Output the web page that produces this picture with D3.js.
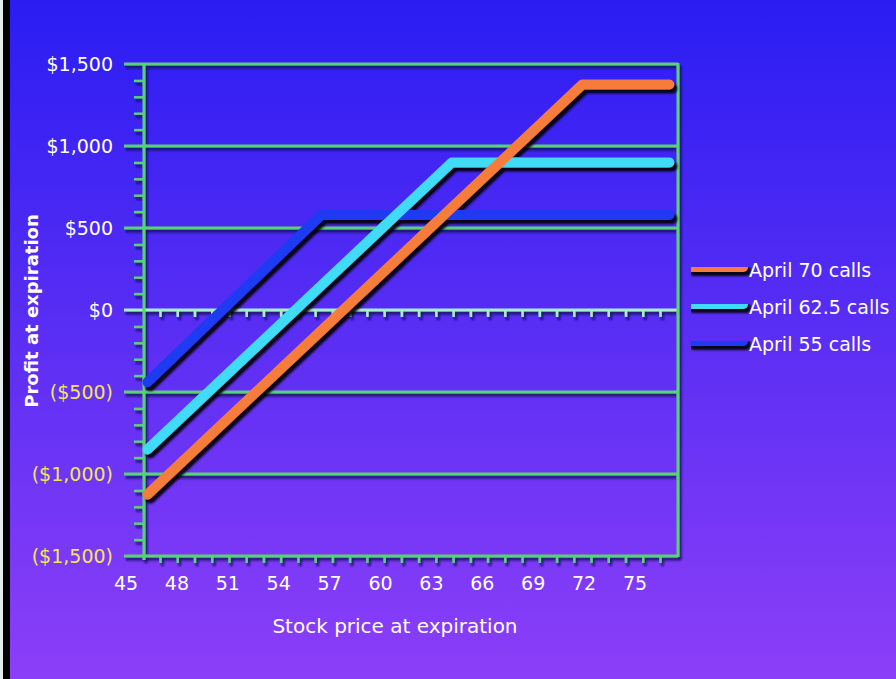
<!DOCTYPE html>
<html>
<head>
<meta charset="utf-8">
<script src="https://cdn.jsdelivr.net/npm/d3@7"></script>
<style>
	body{margin:0;padding:0;overflow:hidden;}
	svg{display:block;}
	text{font-family:"DejaVu Sans",sans-serif;}
</style>
</head>
<body>
<svg id="chart" width="896" height="679"></svg>
<script>

// data
var prices = [45, 55, 62.5, 70, 75];
var april70 = [-1125, -125, 625, 1375, 1375];
var april625 = [-850, 150, 900, 900, 900];
var april55 = [-440, 580, 580, 580, 580];
var seriesNames = ['April 70 calls', 'April 62.5 calls', 'April 55 calls'];
var seriesColors = ['#f67b3b', '#3fdcf7', '#1c3af2'];
var yTicks = [-1500, -1000, -500, 0, 500, 1000, 1500];
var xTicks = [45, 48, 51, 54, 57, 60, 63, 66, 69, 72, 75];

var config = {
	width : 896,
	height : 679,
	left : 144,
	right : 678,
	top : 64,
	bottom : 556,
	grid : '#58d274'
};

var svg = d3.select('#chart');
var defs = svg.append('defs');

var grad = defs.append('linearGradient')
	.attr('id','bg')
	.attr('x1',0).attr('y1',0).attr('x2',0).attr('y2',1);
grad.append('stop').attr('offset','0%').attr('stop-color','#2a1df3');
grad.append('stop').attr('offset','50%').attr('stop-color','#5b2ef4');
grad.append('stop').attr('offset','100%').attr('stop-color','#8c3ff8');

// shadow filters in user space so flat lines keep theirs
function makeShadow(id,dx,dy,col){
	var f = defs.append('filter')
		.attr('id',id)
		.attr('filterUnits','userSpaceOnUse')
		.attr('x',0).attr('y',0)
		.attr('width',config.width).attr('height',config.height);
	f.append('feDropShadow')
		.attr('dx',dx).attr('dy',dy)
		.attr('stdDeviation',1)
		.attr('flood-color',col)
		.attr('flood-opacity',0.9);
}
makeShadow('shadow',3,4,'#000');
makeShadow('gshadow',2,3,'#10085a');

// background
svg.append('rect')
	.attr('width',config.width).attr('height',config.height)
	.attr('fill','url(#bg)');
svg.append('rect')
	.attr('x',0).attr('width',3).attr('height',config.height)
	.attr('fill','#e4ecec');
svg.append('rect')
	.attr('x',3).attr('width',7).attr('height',config.height)
	.attr('fill','#000');

// scales
var xScale = d3.scaleLinear()
				.domain([44.8,75.5])
				.range([config.left,config.right]);

var xLabelScale = d3.scaleLinear()
				.domain([45,75])
				.range([126,635]);

var xMinorScale = d3.scaleLinear()
				.domain([46,75])
				.range([160,660]);

var yScale = d3.scaleLinear()
				.domain([-1500,1500])
				.range([config.bottom,config.top]);

var grid = svg.append('g').attr('filter','url(#gshadow)');

// y minor ticks
var yMinorAxis = d3.axisLeft(yScale)
	.tickValues(d3.range(-1400,1500,100).filter(function(v){return v%500!==0;}))
	.tickSize(10)
	.tickFormat('');
grid.append('g')
	.attr('transform','translate('+config.left+',0)')
	.call(yMinorAxis)
	.call(function(g){
		g.select('.domain').remove();
		g.selectAll('line').attr('stroke',config.grid).attr('stroke-width',2.5);
	});

// x minor ticks on bottom axis and zero line
[config.bottom, yScale(0)].forEach(function(yy){
	grid.append('g')
		.attr('transform','translate(0,'+yy+')')
		.call(d3.axisBottom(xMinorScale).tickValues(d3.range(46,76)).tickSize(7).tickFormat(''))
		.call(function(g){
			g.select('.domain').remove();
			g.selectAll('line').attr('stroke', yy===config.bottom ? config.grid : '#a6efc6').attr('stroke-width',2.5);
		});
});

// horizontal gridlines
grid.selectAll('.hgrid')
	.data(yTicks)
	.enter()
	.append('line')
	.attr('class','hgrid')
	.attr('x1',124)
	.attr('x2',config.right)
	.attr('y1',function(d){return yScale(d);})
	.attr('y2',function(d){return yScale(d);})
	.attr('stroke',function(d){return d===0 ? '#a6efc6' : config.grid;})
	.attr('stroke-width',3);

// vertical frame lines
grid.append('line')
	.attr('x1',config.left).attr('x2',config.left)
	.attr('y1',config.top-1).attr('y2',config.bottom+4)
	.attr('stroke',config.grid).attr('stroke-width',3);
grid.append('line')
	.attr('x1',config.right).attr('x2',config.right)
	.attr('y1',config.top-1).attr('y2',config.bottom+1)
	.attr('stroke',config.grid).attr('stroke-width',3);

// y labels
svg.selectAll('.ylab')
	.data(yTicks)
	.enter()
	.append('text')
	.attr('class','ylab')
	.attr('x',113)
	.attr('y',function(d){return yScale(d);})
	.attr('dy','0.36em')
	.attr('text-anchor','end')
	.attr('font-size',19)
	.attr('fill',function(d){return d<0 ? '#f4e45a' : '#ffffff';})
	.text(function(d){
		var s = '$'+d3.format(',')(Math.abs(d));
		return d<0 ? '('+s+')' : s;
	});

// x labels
svg.selectAll('.xlab')
	.data(xTicks)
	.enter()
	.append('text')
	.attr('class','xlab')
	.attr('x',function(d){return xLabelScale(d);})
	.attr('y',590)
	.attr('text-anchor','middle')
	.attr('font-size',19)
	.attr('fill','#ffffff')
	.text(function(d){return d;});

// axis titles
svg.append('text')
	.attr('x',395).attr('y',633)
	.attr('text-anchor','middle')
	.attr('font-size',20)
	.attr('fill','#ffffff')
	.text('Stock price at expiration');

svg.append('text')
	.attr('transform','translate(38,311) rotate(-90)')
	.attr('text-anchor','middle')
	.attr('font-size',18)
	.attr('font-weight','bold')
	.attr('fill','#ffffff')
	.text('Profit at expiration');

// series
var series = [april70, april625, april55];
var lineGen = d3.line()
	.x(function(d,i){return xScale(prices[i]);})
	.y(function(d){return yScale(d);});

var lines = svg.append('g').attr('filter','url(#shadow)');
lines.selectAll('path')
	.data(series.slice().reverse())
	.enter()
	.append('path')
	.attr('d',lineGen)
	.attr('fill','none')
	.attr('stroke',function(d,i){return seriesColors[2-i];})
	.attr('stroke-width',10)
	.attr('stroke-linecap','round')
	.attr('stroke-linejoin','round');

// legend
var legend = svg.append('g')
	.attr('transform','translate(691,267)');

var legendItems = legend.selectAll('g')
	.data(seriesNames)
	.enter()
	.append('g')
	.attr('transform',function(d,i){return 'translate(0,'+i*37+')';});

legendItems.append('line')
	.attr('x1',0).attr('x2',52)
	.attr('y1',0).attr('y2',0)
	.attr('stroke',function(d,i){return seriesColors[i];})
	.attr('stroke-width',10)
	.attr('stroke-linecap','round')
	.attr('filter','url(#shadow)');

legendItems.append('text')
	.attr('x',58)
	.attr('y',10)
	.attr('font-size',19)
	.attr('fill','#ffffff')
	.text(function(d){return d;});

</script>
</body>
</html>
